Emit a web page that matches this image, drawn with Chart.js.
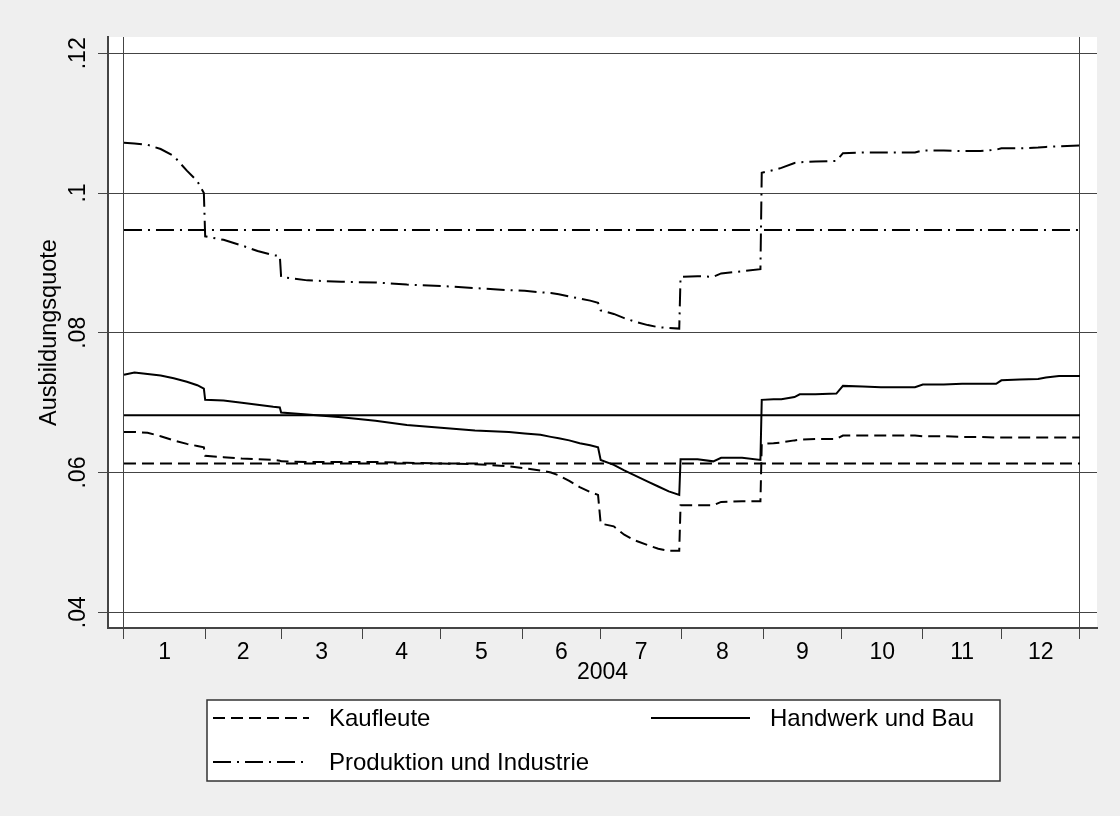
<!DOCTYPE html>
<html>
<head>
<meta charset="utf-8">
<script src="https://cdn.jsdelivr.net/npm/chart.js@4.4.0/dist/chart.umd.min.js"></script>
<style>
body { margin: 0; background: #efefef; }
#wrap { width: 1120px; height: 816px; }
</style>
</head>
<body>
<div id="wrap"><canvas id="myChart" width="1120" height="816"></canvas></div>
<script>
// day of year 2004 (0 = 1 Jan)
var days = [0, 4, 9, 14, 19, 24, 28, 30.5, 31, 38,
    45, 51, 57, 59.5, 60, 70, 83, 96, 108, 121,
    134, 147, 153, 159, 163, 166, 170, 174, 178, 181,
    182, 187, 191, 195, 200, 204, 208, 212, 212.5, 219,
    225, 228, 236, 243, 243.5, 248, 251, 256, 258, 264,
    272, 274.5, 282, 289, 296, 302, 305, 313, 320, 327,
    333, 335, 342, 349, 352, 357, 365];

var kaufleute = [0.0658, 0.0658, 0.0657, 0.0652, 0.0646, 0.0641, 0.0638, 0.0636, 0.0624, 0.0622,
    0.0620, 0.0619, 0.0618, 0.0617, 0.0616, 0.0615, 0.0615, 0.0615, 0.0614, 0.0613,
    0.0612, 0.0609, 0.0606, 0.0603, 0.0600, 0.0596, 0.0588, 0.0579, 0.0572, 0.0568,
    0.0527, 0.0523, 0.0511, 0.0503, 0.0496, 0.0491, 0.0488, 0.0488, 0.0553, 0.0553,
    0.0553, 0.0558, 0.0559, 0.0559, 0.0641, 0.0642, 0.0643, 0.0646, 0.0647, 0.0648,
    0.0648, 0.0653, 0.0653, 0.0653, 0.0653, 0.0653, 0.0652, 0.0652, 0.0651, 0.0651,
    0.0650, 0.0650, 0.0650, 0.0650, 0.0650, 0.0650, 0.0650];

var handwerk = [0.0740, 0.0743, 0.0741, 0.0739, 0.0735, 0.0730, 0.0725, 0.0720, 0.0704, 0.0703,
    0.0700, 0.0697, 0.0694, 0.0693, 0.0686, 0.0683, 0.0679, 0.0674, 0.0668, 0.0664,
    0.0660, 0.0658, 0.0656, 0.0654, 0.0651, 0.0649, 0.0646, 0.0642, 0.0639, 0.0636,
    0.0618, 0.0611, 0.0603, 0.0596, 0.0587, 0.0580, 0.0573, 0.0568, 0.0619, 0.0619,
    0.0616, 0.0621, 0.0621, 0.0618, 0.0704, 0.0705, 0.0705, 0.0708, 0.0712, 0.0712,
    0.0713, 0.0724, 0.0723, 0.0722, 0.0722, 0.0722, 0.0726, 0.0726, 0.0727, 0.0727,
    0.0727, 0.0732, 0.0733, 0.0734, 0.0736, 0.0738, 0.0738];

var produktion = [0.1072, 0.1071, 0.1069, 0.1063, 0.1053, 0.1032, 0.1017, 0.1000, 0.0938, 0.0933,
    0.0925, 0.0917, 0.0911, 0.0910, 0.0880, 0.0875, 0.0873, 0.0872, 0.0869, 0.0867,
    0.0864, 0.0861, 0.0860, 0.0858, 0.0857, 0.0855, 0.0852, 0.0849, 0.0846, 0.0843,
    0.0832, 0.0827, 0.0821, 0.0816, 0.0811, 0.0808, 0.0807, 0.0806, 0.0880, 0.0881,
    0.0880, 0.0885, 0.0888, 0.0891, 0.1029, 0.1033, 0.1036, 0.1043, 0.1044, 0.1045,
    0.1046, 0.1057, 0.1058, 0.1058, 0.1058, 0.1058, 0.1061, 0.1061, 0.1060, 0.1060,
    0.1062, 0.1064, 0.1064, 0.1065, 0.1066, 0.1067, 0.1068];

// yearly averages (horizontal lines)
var means = [0.0613, 0.0682, 0.0947];
var seriesNames = ['Kaufleute', 'Handwerk und Bau', 'Produktion und Industrie'];

var monthStarts = [0, 31, 60, 91, 121, 152, 182, 213, 244, 274, 305, 335, 365];
var monthLabels = ['1', '2', '3', '4', '5', '6', '7', '8', '9', '10', '11', '12'];
var yTicks = [0.04, 0.06, 0.08, 0.1, 0.12];
var yTickLabels = ['.04', '.06', '.08', '.1', '.12'];

var dashes = [[12, 6], [], [18, 6, 2, 6]];
var FONT = 'Liberation Sans, Arial, sans-serif';

var monthMids = [];
for (var i = 0; i < 12; i++) monthMids.push((monthStarts[i] + monthStarts[i + 1]) / 2);

function toPoints(vals) {
    return vals.map(function (v, i) { return { x: days[i], y: v }; });
}
function meanLine(v) {
    return [{ x: monthStarts[0], y: v }, { x: monthStarts[12], y: v }];
}

var allSeries = [kaufleute, handwerk, produktion];
var datasets = [];
allSeries.forEach(function (s, i) {
    datasets.push({
        label: seriesNames[i],
        data: toPoints(s),
        borderColor: '#000',
        borderWidth: 2,
        borderDash: dashes[i],
        pointRadius: 0,
        tension: 0
    });
});
means.forEach(function (m, i) {
    datasets.push({
        label: seriesNames[i] + ' Mittel',
        data: meanLine(m),
        borderColor: '#000',
        borderWidth: 2,
        borderDash: dashes[i],
        pointRadius: 0
    });
});

var background = {
    id: 'background',
    beforeDraw: function (chart) {
        var c = chart.ctx, a = chart.chartArea;
        c.save();
        c.fillStyle = '#efefef';
        c.fillRect(0, 0, chart.width, chart.height);
        c.fillStyle = '#ffffff';
        c.fillRect(a.left, a.top, a.right - a.left, a.bottom - a.top);
        c.restore();
    }
};

// Stata style legend box under the plot
var legendBox = {
    id: 'legendBox',
    afterDraw: function (chart) {
        var c = chart.ctx;
        var slots = [[213, 718, 96], [651, 718, 99], [213, 762, 96]];
        c.save();
        c.fillStyle = '#fff';
        c.fillRect(207, 700, 793, 81);
        c.strokeStyle = '#333';
        c.lineWidth = 1.5;
        c.strokeRect(207, 700, 793, 81);
        c.font = '24px ' + FONT;
        c.textBaseline = 'middle';
        for (var i = 0; i < 3; i++) {
            var s = slots[i];
            c.strokeStyle = '#000';
            c.lineWidth = 2;
            c.setLineDash(dashes[i]);
            c.beginPath();
            c.moveTo(s[0], s[1]);
            c.lineTo(s[0] + s[2], s[1]);
            c.stroke();
            c.setLineDash([]);
            c.fillStyle = '#000';
            c.fillText(seriesNames[i], s[0] + s[2] + 20, s[1] + 1);
        }
        c.restore();
    }
};

var ctx = document.getElementById('myChart').getContext('2d');
var myChart = new Chart(ctx, {
    type: 'line',
    data: { datasets: datasets },
    options: {
        responsive: false,
        animation: false,
        devicePixelRatio: 1,
        layout: { padding: { top: 37, right: 23, bottom: 128, left: 0 } },
        plugins: {
            legend: { display: false },
            tooltip: { enabled: false }
        },
        scales: {
            x: {
                type: 'linear',
                min: -6.1,
                max: 371.5,
                afterBuildTicks: function (scale) {
                    var t = monthStarts.concat(monthMids).sort(function (a, b) { return a - b; });
                    scale.ticks = t.map(function (v) { return { value: v }; });
                },
                afterFit: function (scale) { scale.height = 60; },
                ticks: {
                    autoSkip: false,
                    maxRotation: 0,
                    padding: 0,
                    color: '#000',
                    font: { family: FONT, size: 23 },
                    callback: function (v) {
                        var k = monthMids.indexOf(v);
                        return k >= 0 ? monthLabels[k] : '';
                    }
                },
                grid: {
                    tickLength: 11,
                    lineWidth: 1,
                    color: function (c) {
                        var v = c.tick ? c.tick.value : null;
                        return (v === monthStarts[0] || v === monthStarts[12]) ? '#444' : 'rgba(0,0,0,0)';
                    },
                    tickColor: function (c) {
                        var v = c.tick ? c.tick.value : null;
                        return monthStarts.indexOf(v) >= 0 ? '#444' : 'rgba(0,0,0,0)';
                    }
                },
                border: { display: true, color: '#444', width: 2 },
                title: {
                    display: true,
                    text: '2004',
                    color: '#000',
                    font: { family: FONT, size: 23 },
                    padding: { top: 0, bottom: 2 }
                }
            },
            y: {
                min: 0.03775,
                max: 0.12233,
                afterBuildTicks: function (scale) {
                    scale.ticks = yTicks.map(function (v) { return { value: v }; });
                },
                afterFit: function (scale) { scale.width = 108; },
                ticks: {
                    minRotation: 90,
                    maxRotation: 90,
                    crossAlign: 'center',
                    padding: 3,
                    color: '#000',
                    font: { family: FONT, size: 23 },
                    callback: function (v) {
                        var k = yTicks.indexOf(v);
                        return k >= 0 ? yTickLabels[k] : '';
                    }
                },
                grid: { tickLength: 10, lineWidth: 1, color: '#444' },
                border: { display: true, color: '#444', width: 2 },
                title: {
                    display: true,
                    text: 'Ausbildungsquote',
                    color: '#000',
                    font: { family: FONT, size: 23.5 },
                    padding: { top: 35, bottom: 0 }
                }
            }
        }
    },
    plugins: [background, legendBox]
});
</script>
</body>
</html>
